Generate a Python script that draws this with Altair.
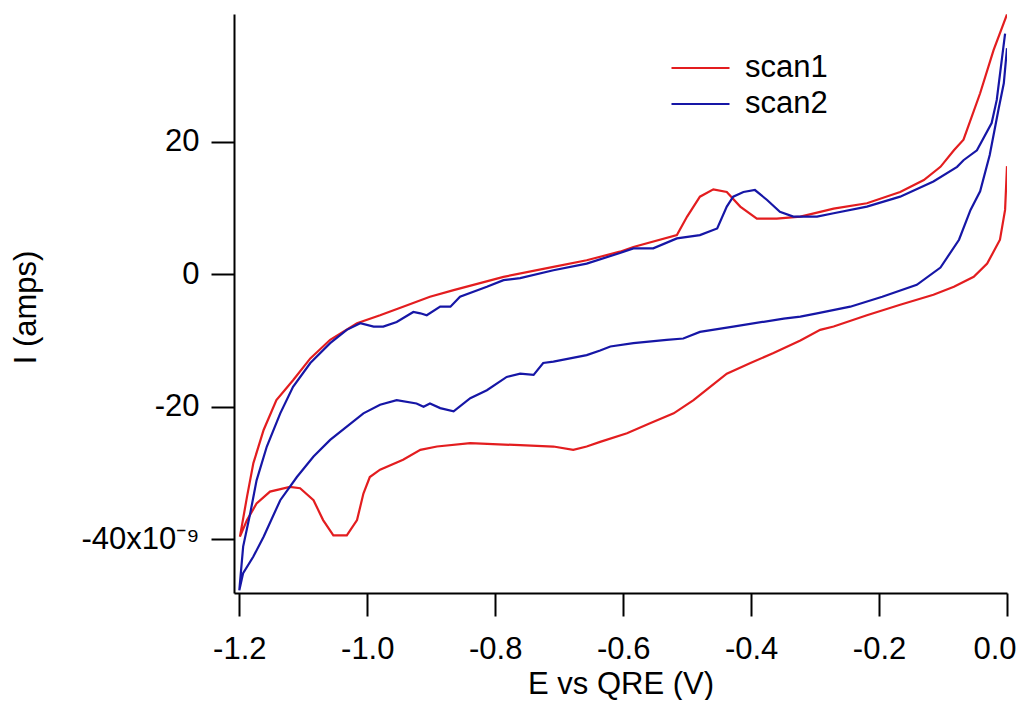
import altair as alt
import pandas as pd

# scan1 (red): cathodic sweep from 0 V to -1.2 V, then anodic return to 0 V
scan1_E = [0.0, -0.003, -0.011, -0.031, -0.052, -0.083, -0.115, -0.167, -0.219, -0.271,
           -0.292, -0.323, -0.365, -0.401, -0.438, -0.464, -0.490, -0.521, -0.558, -0.594,
           -0.636, -0.657, -0.678, -0.709, -0.761, -0.839, -0.891, -0.917, -0.944, -0.980,
           -0.996, -1.006, -1.016, -1.032, -1.053, -1.069, -1.084, -1.105, -1.121, -1.152,
           -1.173, -1.188, -1.199,
           -1.188, -1.178, -1.162, -1.142, -1.116, -1.089, -1.058, -1.016, -0.980, -0.944,
           -0.902, -0.865, -0.787, -0.709, -0.657, -0.605, -0.584, -0.516, -0.500, -0.480,
           -0.459, -0.438, -0.417, -0.391, -0.360, -0.323, -0.292, -0.271, -0.219, -0.167,
           -0.130, -0.104, -0.083, -0.068, -0.042, -0.021, 0.0]
scan1_I = [16.3, 9.7, 5.2, 1.6, -0.4, -1.9, -3.1, -4.6, -6.2, -7.9,
           -8.4, -10.0, -11.9, -13.4, -15.0, -17.0, -19.0, -21.0, -22.5, -24.0,
           -25.3, -26.0, -26.5, -26.0, -25.8, -25.5, -26.0, -26.5, -28.0, -29.5,
           -30.6, -33.1, -37.1, -39.4, -39.4, -37.1, -34.1, -32.3, -32.1, -32.8,
           -34.6, -37.1, -39.6,
           -33.6, -28.5, -23.5, -19.0, -16.0, -12.7, -9.9, -7.4, -6.2, -4.9,
           -3.4, -2.4, -0.4, 1.1, 2.1, 3.4, 4.1, 5.9, 8.7, 11.7,
           12.8, 12.4, 10.2, 8.4, 8.4, 8.7, 9.4, 9.9, 10.7, 12.4,
           14.2, 16.2, 18.7, 20.3, 27.3, 33.8, 39.2]

# scan2 (blue)
scan2_E = [0.0, -0.005, -0.013, -0.027, -0.042, -0.057, -0.075, -0.104, -0.141, -0.195,
           -0.245, -0.297, -0.323, -0.349, -0.428, -0.480, -0.506, -0.532, -0.584, -0.620,
           -0.636, -0.657, -0.709, -0.725, -0.740, -0.761, -0.782, -0.813, -0.839, -0.865,
           -0.886, -0.902, -0.912, -0.923, -0.954, -0.980, -1.006, -1.032, -1.058, -1.084,
           -1.110, -1.136, -1.162, -1.178, -1.194, -1.200,
           -1.194, -1.183, -1.173, -1.157, -1.136, -1.116, -1.089, -1.058, -1.032, -1.011,
           -0.990, -0.975, -0.954, -0.928, -0.917, -0.907, -0.886, -0.870, -0.855, -0.813,
           -0.787, -0.761, -0.709, -0.657, -0.605, -0.584, -0.553, -0.516, -0.480, -0.453,
           -0.438, -0.428, -0.412, -0.394, -0.375, -0.355, -0.334, -0.297, -0.271, -0.219,
           -0.167, -0.115, -0.078, -0.068, -0.047, -0.024, -0.016, -0.003]
scan2_I = [34.1, 28.8, 25.0, 18.0, 12.5, 9.7, 5.2, 1.0, -1.6, -3.4,
           -4.9, -5.9, -6.4, -6.7, -7.9, -8.7, -9.7, -9.9, -10.4, -10.9,
           -11.5, -12.2, -13.2, -13.4, -15.2, -15.0, -15.5, -17.5, -18.7, -20.7,
           -20.2, -19.5, -20.0, -19.5, -19.0, -19.7, -21.0, -23.0, -25.0, -27.5,
           -30.6, -34.1, -39.6, -42.6, -45.1, -47.7,
           -41.1, -36.1, -31.1, -26.0, -21.0, -17.0, -13.4, -10.4, -8.4, -7.4,
           -7.9, -7.9, -7.2, -5.7, -5.9, -6.2, -4.9, -4.9, -3.4, -1.9,
           -0.9, -0.6, 0.6, 1.6, 3.2, 3.9, 3.9, 5.4, 5.9, 6.9,
           10.2, 11.7, 12.4, 12.7, 11.2, 9.4, 8.7, 8.7, 9.2, 10.2,
           11.7, 14.0, 16.2, 17.2, 18.7, 22.8, 26.3, 36.3]

series = ["scan1", "scan2"]
colors = ["#e31d1f", "#1616a6"]
x_ticks = [-1.2, -1.0, -0.8, -0.6, -0.4, -0.2, 0.0]
y_ticks = [-40, -20, 0, 20]

rows = []
for i, (e, c) in enumerate(zip(scan1_E, scan1_I)):
    rows.append({"E": e, "I": c, "scan": "scan1", "idx": i})
for i, (e, c) in enumerate(zip(scan2_E, scan2_I)):
    rows.append({"E": e, "I": c, "scan": "scan2", "idx": i})
df = pd.DataFrame(rows)

FONT = "Liberation Sans"

x_axis = alt.Axis(
    values=x_ticks, title="E vs QRE (V)", grid=False,
    domainColor="black", domainWidth=2, tickColor="black", tickWidth=2, tickSize=23,
    labelFont=FONT, labelFontSize=31, labelColor="black", labelPadding=18,
    labelExpr="(datum.value < 0 ? '-' : '') + format(abs(datum.value), '.1f')",
    labelFlush=True, labelFlushOffset=9, labelOverlap=False,
    titleFont=FONT, titleFontSize=31, titleFontWeight="normal", titleColor="black",
    titleBaseline="alphabetic", titleY=100,
)
y_axis = alt.Axis(
    values=y_ticks, title="I (amps)", grid=False,
    domainColor="black", domainWidth=2, tickColor="black", tickWidth=2, tickSize=23,
    labelFont=FONT, labelFontSize=31, labelColor="black", labelPadding=12,
    labelExpr="datum.value == -40 ? '-40x10\u207b\u2079' : (datum.value < 0 ? '-' + abs(datum.value) : '' + datum.value)",
    labelFlush=False, labelOverlap=False,
    titleFont=FONT, titleFontSize=31, titleFontWeight="normal", titleColor="black",
    titleAngle=270, titleAlign="center", titleBaseline="alphabetic",
    titleX=-199, titleY=293,
)

chart = alt.Chart(df).mark_line(strokeWidth=2.2, clip=True).encode(
    x=alt.X("E:Q", scale=alt.Scale(domain=[-1.2083, 0.0], nice=False, zero=False), axis=x_axis),
    y=alt.Y("I:Q", scale=alt.Scale(domain=[-48.1, 39.26], nice=False, zero=False), axis=y_axis),
    color=alt.Color("scan:N", scale=alt.Scale(domain=series, range=colors),
                    legend=alt.Legend(orient="none", legendX=436, legendY=39, title=None,
                                      symbolType="stroke", symbolSize=3364, symbolStrokeWidth=2.2,
                                      clipHeight=30, rowPadding=5, labelOffset=14,
                                      labelFont=FONT, labelFontSize=31, labelColor="black",
                                      padding=0)),
    order="idx:Q",
    detail="scan:N",
).properties(
    width=773, height=579,
    autosize=alt.AutoSizeParams(type="none"),
    padding={"left": 226, "top": 6, "right": 17, "bottom": 107},
).configure_view(stroke=None)

chart.save("out.html", embed_options={"renderer": "svg", "actions": False})
